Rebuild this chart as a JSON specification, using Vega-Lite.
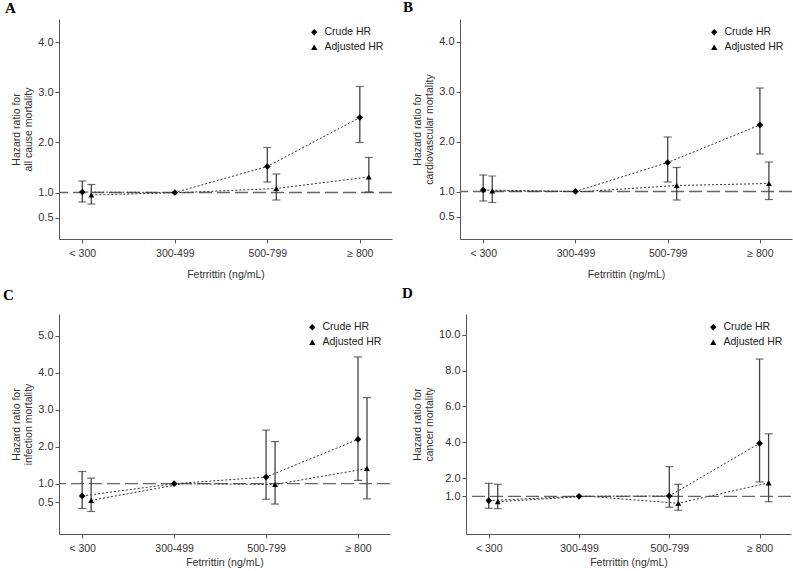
{
  "$schema": "https://vega.github.io/schema/vega-lite/v6.json",
  "padding": {"left": 3, "top": 0, "right": 0, "bottom": 0},
  "config": {
    "font": "Liberation Sans",
    "view": {"stroke": null},
    "axis": {"grid": false, "domainColor": "#555", "tickColor": "#555", "tickSize": 4, "labelColor": "#333", "titleColor": "#333", "titleFontWeight": "normal", "titleFontSize": 10.5, "labelFontSize": 10.5},
    "axisX": {"labelAngle": 0, "labelPadding": 5, "titlePadding": 11},
    "axisY": {"labelFontSize": 11, "labelPadding": 2, "titlePadding": 4},
    "legend": {"orient": "top-right", "offset": 8, "title": null, "labelFontSize": 10.5, "labelColor": "#222", "symbolSize": 40, "symbolFillColor": "black", "symbolStrokeColor": "black", "symbolStrokeWidth": 0, "rowPadding": 4, "labelOffset": 5, "padding": 0},
    "title": {"font": "Liberation Serif", "fontSize": 15, "fontWeight": "bold", "color": "black", "anchor": "start", "frame": "group"}
  },
  "datasets": {
    "A": [
      {"cat": "< 300", "est": "Crude HR", "hr": 1.01, "lo": 0.81, "hi": 1.23},
      {"cat": "300-499", "est": "Crude HR", "hr": 1.0, "lo": null, "hi": null},
      {"cat": "500-799", "est": "Crude HR", "hr": 1.52, "lo": 1.21, "hi": 1.9},
      {"cat": "≥ 800", "est": "Crude HR", "hr": 2.5, "lo": 2.0, "hi": 3.12},
      {"cat": "< 300", "est": "Adjusted HR", "hr": 0.95, "lo": 0.77, "hi": 1.16},
      {"cat": "300-499", "est": "Adjusted HR", "hr": 1.0, "lo": null, "hi": null},
      {"cat": "500-799", "est": "Adjusted HR", "hr": 1.08, "lo": 0.85, "hi": 1.37},
      {"cat": "≥ 800", "est": "Adjusted HR", "hr": 1.31, "lo": 1.01, "hi": 1.7}
    ],
    "B": [
      {"cat": "< 300", "est": "Crude HR", "hr": 1.03, "lo": 0.81, "hi": 1.33},
      {"cat": "300-499", "est": "Crude HR", "hr": 1.0, "lo": null, "hi": null},
      {"cat": "500-799", "est": "Crude HR", "hr": 1.58, "lo": 1.19, "hi": 2.09},
      {"cat": "≥ 800", "est": "Crude HR", "hr": 2.33, "lo": 1.75, "hi": 3.07},
      {"cat": "< 300", "est": "Adjusted HR", "hr": 1.01, "lo": 0.78, "hi": 1.31},
      {"cat": "300-499", "est": "Adjusted HR", "hr": 1.0, "lo": null, "hi": null},
      {"cat": "500-799", "est": "Adjusted HR", "hr": 1.12, "lo": 0.83, "hi": 1.48},
      {"cat": "≥ 800", "est": "Adjusted HR", "hr": 1.16, "lo": 0.84, "hi": 1.59}
    ],
    "C": [
      {"cat": "< 300", "est": "Crude HR", "hr": 0.67, "lo": 0.33, "hi": 1.33},
      {"cat": "300-499", "est": "Crude HR", "hr": 1.0, "lo": null, "hi": null},
      {"cat": "500-799", "est": "Crude HR", "hr": 1.18, "lo": 0.58, "hi": 2.45},
      {"cat": "≥ 800", "est": "Crude HR", "hr": 2.2, "lo": 1.09, "hi": 4.43},
      {"cat": "< 300", "est": "Adjusted HR", "hr": 0.55, "lo": 0.25, "hi": 1.15},
      {"cat": "300-499", "est": "Adjusted HR", "hr": 1.0, "lo": null, "hi": null},
      {"cat": "500-799", "est": "Adjusted HR", "hr": 0.98, "lo": 0.45, "hi": 2.14},
      {"cat": "≥ 800", "est": "Adjusted HR", "hr": 1.41, "lo": 0.59, "hi": 3.33}
    ],
    "D": [
      {"cat": "< 300", "est": "Crude HR", "hr": 0.76, "lo": 0.33, "hi": 1.72},
      {"cat": "300-499", "est": "Crude HR", "hr": 1.0, "lo": null, "hi": null},
      {"cat": "500-799", "est": "Crude HR", "hr": 1.02, "lo": 0.39, "hi": 2.65},
      {"cat": "≥ 800", "est": "Crude HR", "hr": 3.95, "lo": 1.8, "hi": 8.64},
      {"cat": "< 300", "est": "Adjusted HR", "hr": 0.7, "lo": 0.31, "hi": 1.67},
      {"cat": "300-499", "est": "Adjusted HR", "hr": 1.0, "lo": null, "hi": null},
      {"cat": "500-799", "est": "Adjusted HR", "hr": 0.61, "lo": 0.22, "hi": 1.67},
      {"cat": "≥ 800", "est": "Adjusted HR", "hr": 1.75, "lo": 0.7, "hi": 4.48}
    ]
  },
  "resolve": {"scale": {"shape": "independent"}, "legend": {"shape": "independent"}},
  "spacing": 6,
  "vconcat": [
    {
      "spacing": 10,
      "resolve": {"scale": {"shape": "independent"}, "legend": {"shape": "independent"}},
      "hconcat": [
        {
          "title": {"text": "A", "dx": -54, "offset": 3},
          "width": 333, "height": 220,
          "data": {"name": "A"},
          "layer": [
            {"data": {"values": [{"ref": 1}]}, "mark": {"type": "rule", "color": "#666", "strokeDash": [13, 5], "strokeWidth": 1.3}, "encoding": {"y": {"field": "ref", "type": "quantitative", "scale": {"domain": [0.07, 4.47], "nice": false, "zero": false}, "axis": {"values": [0.5, 1, 2, 3, 4], "format": ".1f"}, "title": ["Hazard ratio for", "all cause mortality"]}}},
            {"transform": [{"filter": "datum.est == 'Crude HR'"}], "mark": {"type": "line", "color": "#333", "strokeWidth": 1, "strokeDash": [2, 2]}, "encoding": {"x": {"field": "cat", "type": "nominal", "sort": ["< 300", "300-499", "500-799", "≥ 800"], "scale": {"type": "point", "padding": 0.3, "align": 0.42}, "title": "Fetrrittin (ng/mL)"}, "y": {"field": "hr", "type": "quantitative", "title": ["Hazard ratio for", "all cause mortality"]}, "order": {"value": null}}},
            {"transform": [{"filter": "datum.est == 'Adjusted HR'"}], "mark": {"type": "line", "color": "#333", "strokeWidth": 1, "strokeDash": [2, 2], "xOffset": 9}, "encoding": {"x": {"field": "cat", "type": "nominal", "sort": ["< 300", "300-499", "500-799", "≥ 800"], "title": "Fetrrittin (ng/mL)"}, "y": {"field": "hr", "type": "quantitative", "title": ["Hazard ratio for", "all cause mortality"]}, "order": {"value": null}}},
            {"transform": [{"filter": "datum.est == 'Crude HR' && datum.lo != null"}], "mark": {"type": "rule", "color": "#444", "strokeWidth": 1.3}, "encoding": {"x": {"field": "cat", "type": "nominal", "sort": ["< 300", "300-499", "500-799", "≥ 800"], "title": "Fetrrittin (ng/mL)"}, "y": {"field": "lo", "type": "quantitative", "title": ["Hazard ratio for", "all cause mortality"]}, "y2": {"field": "hi"}}},
            {"transform": [{"filter": "datum.est == 'Adjusted HR' && datum.lo != null"}], "mark": {"type": "rule", "color": "#444", "strokeWidth": 1.3, "xOffset": 9}, "encoding": {"x": {"field": "cat", "type": "nominal", "sort": ["< 300", "300-499", "500-799", "≥ 800"], "title": "Fetrrittin (ng/mL)"}, "y": {"field": "lo", "type": "quantitative", "title": ["Hazard ratio for", "all cause mortality"]}, "y2": {"field": "hi"}}},
            {"transform": [{"filter": "datum.est == 'Crude HR' && datum.lo != null"}, {"fold": ["lo", "hi"], "as": ["bound", "val"]}], "mark": {"type": "tick", "color": "#333", "size": 8, "thickness": 1.2}, "encoding": {"x": {"field": "cat", "type": "nominal", "sort": ["< 300", "300-499", "500-799", "≥ 800"], "title": "Fetrrittin (ng/mL)"}, "y": {"field": "val", "type": "quantitative", "title": ["Hazard ratio for", "all cause mortality"]}}},
            {"transform": [{"filter": "datum.est == 'Adjusted HR' && datum.lo != null"}, {"fold": ["lo", "hi"], "as": ["bound", "val"]}], "mark": {"type": "tick", "color": "#333", "size": 8, "thickness": 1.2, "xOffset": 9}, "encoding": {"x": {"field": "cat", "type": "nominal", "sort": ["< 300", "300-499", "500-799", "≥ 800"], "title": "Fetrrittin (ng/mL)"}, "y": {"field": "val", "type": "quantitative", "title": ["Hazard ratio for", "all cause mortality"]}}},
            {"transform": [{"filter": "datum.est == 'Crude HR'"}], "mark": {"type": "point", "filled": true, "color": "black", "size": 45, "opacity": 1}, "encoding": {"x": {"field": "cat", "type": "nominal", "sort": ["< 300", "300-499", "500-799", "≥ 800"], "title": "Fetrrittin (ng/mL)"}, "y": {"field": "hr", "type": "quantitative", "title": ["Hazard ratio for", "all cause mortality"]}, "shape": {"field": "est", "type": "nominal", "scale": {"domain": ["Crude HR", "Adjusted HR"], "range": ["diamond", "triangle-up"]}, "legend": {}}}},
            {"transform": [{"filter": "datum.est == 'Adjusted HR' && datum.lo != null"}], "mark": {"type": "point", "filled": true, "color": "black", "size": 35, "opacity": 1, "xOffset": 9}, "encoding": {"x": {"field": "cat", "type": "nominal", "sort": ["< 300", "300-499", "500-799", "≥ 800"], "title": "Fetrrittin (ng/mL)"}, "y": {"field": "hr", "type": "quantitative", "title": ["Hazard ratio for", "all cause mortality"]}, "shape": {"field": "est", "type": "nominal"}}}
          ]
        },
        {
          "title": {"text": "B", "dx": -57, "offset": 4},
          "width": 332, "height": 220,
          "data": {"name": "B"},
          "layer": [
            {"data": {"values": [{"ref": 1}]}, "mark": {"type": "rule", "color": "#666", "strokeDash": [13, 5], "strokeWidth": 1.3}, "encoding": {"y": {"field": "ref", "type": "quantitative", "scale": {"domain": [0.05, 4.45], "nice": false, "zero": false}, "axis": {"values": [0.5, 1, 2, 3, 4], "format": ".1f"}, "title": ["Hazard ratio for", "cardiovascular mortality"]}}},
            {"transform": [{"filter": "datum.est == 'Crude HR'"}], "mark": {"type": "line", "color": "#333", "strokeWidth": 1, "strokeDash": [2, 2]}, "encoding": {"x": {"field": "cat", "type": "nominal", "sort": ["< 300", "300-499", "500-799", "≥ 800"], "scale": {"type": "point", "padding": 0.3, "align": 0.42}, "title": "Fetrrittin (ng/mL)"}, "y": {"field": "hr", "type": "quantitative", "title": ["Hazard ratio for", "cardiovascular mortality"]}, "order": {"value": null}}},
            {"transform": [{"filter": "datum.est == 'Adjusted HR'"}], "mark": {"type": "line", "color": "#333", "strokeWidth": 1, "strokeDash": [2, 2], "xOffset": 9}, "encoding": {"x": {"field": "cat", "type": "nominal", "sort": ["< 300", "300-499", "500-799", "≥ 800"], "title": "Fetrrittin (ng/mL)"}, "y": {"field": "hr", "type": "quantitative", "title": ["Hazard ratio for", "cardiovascular mortality"]}, "order": {"value": null}}},
            {"transform": [{"filter": "datum.est == 'Crude HR' && datum.lo != null"}], "mark": {"type": "rule", "color": "#444", "strokeWidth": 1.3}, "encoding": {"x": {"field": "cat", "type": "nominal", "sort": ["< 300", "300-499", "500-799", "≥ 800"], "title": "Fetrrittin (ng/mL)"}, "y": {"field": "lo", "type": "quantitative", "title": ["Hazard ratio for", "cardiovascular mortality"]}, "y2": {"field": "hi"}}},
            {"transform": [{"filter": "datum.est == 'Adjusted HR' && datum.lo != null"}], "mark": {"type": "rule", "color": "#444", "strokeWidth": 1.3, "xOffset": 9}, "encoding": {"x": {"field": "cat", "type": "nominal", "sort": ["< 300", "300-499", "500-799", "≥ 800"], "title": "Fetrrittin (ng/mL)"}, "y": {"field": "lo", "type": "quantitative", "title": ["Hazard ratio for", "cardiovascular mortality"]}, "y2": {"field": "hi"}}},
            {"transform": [{"filter": "datum.est == 'Crude HR' && datum.lo != null"}, {"fold": ["lo", "hi"], "as": ["bound", "val"]}], "mark": {"type": "tick", "color": "#333", "size": 8, "thickness": 1.2}, "encoding": {"x": {"field": "cat", "type": "nominal", "sort": ["< 300", "300-499", "500-799", "≥ 800"], "title": "Fetrrittin (ng/mL)"}, "y": {"field": "val", "type": "quantitative", "title": ["Hazard ratio for", "cardiovascular mortality"]}}},
            {"transform": [{"filter": "datum.est == 'Adjusted HR' && datum.lo != null"}, {"fold": ["lo", "hi"], "as": ["bound", "val"]}], "mark": {"type": "tick", "color": "#333", "size": 8, "thickness": 1.2, "xOffset": 9}, "encoding": {"x": {"field": "cat", "type": "nominal", "sort": ["< 300", "300-499", "500-799", "≥ 800"], "title": "Fetrrittin (ng/mL)"}, "y": {"field": "val", "type": "quantitative", "title": ["Hazard ratio for", "cardiovascular mortality"]}}},
            {"transform": [{"filter": "datum.est == 'Crude HR'"}], "mark": {"type": "point", "filled": true, "color": "black", "size": 45, "opacity": 1}, "encoding": {"x": {"field": "cat", "type": "nominal", "sort": ["< 300", "300-499", "500-799", "≥ 800"], "title": "Fetrrittin (ng/mL)"}, "y": {"field": "hr", "type": "quantitative", "title": ["Hazard ratio for", "cardiovascular mortality"]}, "shape": {"field": "est", "type": "nominal", "scale": {"domain": ["Crude HR", "Adjusted HR"], "range": ["diamond", "triangle-up"]}, "legend": {}}}},
            {"transform": [{"filter": "datum.est == 'Adjusted HR' && datum.lo != null"}], "mark": {"type": "point", "filled": true, "color": "black", "size": 35, "opacity": 1, "xOffset": 9}, "encoding": {"x": {"field": "cat", "type": "nominal", "sort": ["< 300", "300-499", "500-799", "≥ 800"], "title": "Fetrrittin (ng/mL)"}, "y": {"field": "hr", "type": "quantitative", "title": ["Hazard ratio for", "cardiovascular mortality"]}, "shape": {"field": "est", "type": "nominal"}}}
          ]
        }
      ]
    },
    {
      "spacing": 11,
      "resolve": {"scale": {"shape": "independent"}, "legend": {"shape": "independent"}},
      "hconcat": [
        {
          "title": {"text": "C", "dx": -56, "offset": 11},
          "width": 331, "height": 220,
          "data": {"name": "C"},
          "layer": [
            {"data": {"values": [{"ref": 1}]}, "mark": {"type": "rule", "color": "#666", "strokeDash": [13, 5], "strokeWidth": 1.3}, "encoding": {"y": {"field": "ref", "type": "quantitative", "scale": {"domain": [-0.36, 5.59], "nice": false, "zero": false}, "axis": {"values": [0.5, 1, 2, 3, 4, 5], "format": ".1f"}, "title": ["Hazard ratio for", "infection mortality"]}}},
            {"transform": [{"filter": "datum.est == 'Crude HR'"}], "mark": {"type": "line", "color": "#333", "strokeWidth": 1, "strokeDash": [2, 2]}, "encoding": {"x": {"field": "cat", "type": "nominal", "sort": ["< 300", "300-499", "500-799", "≥ 800"], "scale": {"type": "point", "padding": 0.3, "align": 0.42}, "axis": {"titlePadding": 4}, "title": "Fetrrittin (ng/mL)"}, "y": {"field": "hr", "type": "quantitative", "title": ["Hazard ratio for", "infection mortality"]}, "order": {"value": null}}},
            {"transform": [{"filter": "datum.est == 'Adjusted HR'"}], "mark": {"type": "line", "color": "#333", "strokeWidth": 1, "strokeDash": [2, 2], "xOffset": 9}, "encoding": {"x": {"field": "cat", "type": "nominal", "sort": ["< 300", "300-499", "500-799", "≥ 800"], "title": "Fetrrittin (ng/mL)"}, "y": {"field": "hr", "type": "quantitative", "title": ["Hazard ratio for", "infection mortality"]}, "order": {"value": null}}},
            {"transform": [{"filter": "datum.est == 'Crude HR' && datum.lo != null"}], "mark": {"type": "rule", "color": "#444", "strokeWidth": 1.3}, "encoding": {"x": {"field": "cat", "type": "nominal", "sort": ["< 300", "300-499", "500-799", "≥ 800"], "title": "Fetrrittin (ng/mL)"}, "y": {"field": "lo", "type": "quantitative", "title": ["Hazard ratio for", "infection mortality"]}, "y2": {"field": "hi"}}},
            {"transform": [{"filter": "datum.est == 'Adjusted HR' && datum.lo != null"}], "mark": {"type": "rule", "color": "#444", "strokeWidth": 1.3, "xOffset": 9}, "encoding": {"x": {"field": "cat", "type": "nominal", "sort": ["< 300", "300-499", "500-799", "≥ 800"], "title": "Fetrrittin (ng/mL)"}, "y": {"field": "lo", "type": "quantitative", "title": ["Hazard ratio for", "infection mortality"]}, "y2": {"field": "hi"}}},
            {"transform": [{"filter": "datum.est == 'Crude HR' && datum.lo != null"}, {"fold": ["lo", "hi"], "as": ["bound", "val"]}], "mark": {"type": "tick", "color": "#333", "size": 8, "thickness": 1.2}, "encoding": {"x": {"field": "cat", "type": "nominal", "sort": ["< 300", "300-499", "500-799", "≥ 800"], "title": "Fetrrittin (ng/mL)"}, "y": {"field": "val", "type": "quantitative", "title": ["Hazard ratio for", "infection mortality"]}}},
            {"transform": [{"filter": "datum.est == 'Adjusted HR' && datum.lo != null"}, {"fold": ["lo", "hi"], "as": ["bound", "val"]}], "mark": {"type": "tick", "color": "#333", "size": 8, "thickness": 1.2, "xOffset": 9}, "encoding": {"x": {"field": "cat", "type": "nominal", "sort": ["< 300", "300-499", "500-799", "≥ 800"], "title": "Fetrrittin (ng/mL)"}, "y": {"field": "val", "type": "quantitative", "title": ["Hazard ratio for", "infection mortality"]}}},
            {"transform": [{"filter": "datum.est == 'Crude HR'"}], "mark": {"type": "point", "filled": true, "color": "black", "size": 45, "opacity": 1}, "encoding": {"x": {"field": "cat", "type": "nominal", "sort": ["< 300", "300-499", "500-799", "≥ 800"], "title": "Fetrrittin (ng/mL)"}, "y": {"field": "hr", "type": "quantitative", "title": ["Hazard ratio for", "infection mortality"]}, "shape": {"field": "est", "type": "nominal", "scale": {"domain": ["Crude HR", "Adjusted HR"], "range": ["diamond", "triangle-up"]}, "legend": {}}}},
            {"transform": [{"filter": "datum.est == 'Adjusted HR' && datum.lo != null"}], "mark": {"type": "point", "filled": true, "color": "black", "size": 35, "opacity": 1, "xOffset": 9}, "encoding": {"x": {"field": "cat", "type": "nominal", "sort": ["< 300", "300-499", "500-799", "≥ 800"], "title": "Fetrrittin (ng/mL)"}, "y": {"field": "hr", "type": "quantitative", "title": ["Hazard ratio for", "infection mortality"]}, "shape": {"field": "est", "type": "nominal"}}}
          ]
        },
        {
          "title": {"text": "D", "dx": -64, "offset": 13},
          "width": 325, "height": 220,
          "data": {"name": "D"},
          "layer": [
            {"data": {"values": [{"ref": 1}]}, "mark": {"type": "rule", "color": "#666", "strokeDash": [13, 5], "strokeWidth": 1.3}, "encoding": {"y": {"field": "ref", "type": "quantitative", "scale": {"domain": [-1.1, 11.15], "nice": false, "zero": false}, "axis": {"values": [1, 2, 4, 6, 8, 10], "format": ".1f"}, "title": ["Hazard ratio for", "cancer mortality"]}}},
            {"transform": [{"filter": "datum.est == 'Crude HR'"}], "mark": {"type": "line", "color": "#333", "strokeWidth": 1, "strokeDash": [2, 2]}, "encoding": {"x": {"field": "cat", "type": "nominal", "sort": ["< 300", "300-499", "500-799", "≥ 800"], "scale": {"type": "point", "padding": 0.3, "align": 0.42}, "axis": {"titlePadding": 4}, "title": "Fetrrittin (ng/mL)"}, "y": {"field": "hr", "type": "quantitative", "title": ["Hazard ratio for", "cancer mortality"]}, "order": {"value": null}}},
            {"transform": [{"filter": "datum.est == 'Adjusted HR'"}], "mark": {"type": "line", "color": "#333", "strokeWidth": 1, "strokeDash": [2, 2], "xOffset": 9}, "encoding": {"x": {"field": "cat", "type": "nominal", "sort": ["< 300", "300-499", "500-799", "≥ 800"], "title": "Fetrrittin (ng/mL)"}, "y": {"field": "hr", "type": "quantitative", "title": ["Hazard ratio for", "cancer mortality"]}, "order": {"value": null}}},
            {"transform": [{"filter": "datum.est == 'Crude HR' && datum.lo != null"}], "mark": {"type": "rule", "color": "#444", "strokeWidth": 1.3}, "encoding": {"x": {"field": "cat", "type": "nominal", "sort": ["< 300", "300-499", "500-799", "≥ 800"], "title": "Fetrrittin (ng/mL)"}, "y": {"field": "lo", "type": "quantitative", "title": ["Hazard ratio for", "cancer mortality"]}, "y2": {"field": "hi"}}},
            {"transform": [{"filter": "datum.est == 'Adjusted HR' && datum.lo != null"}], "mark": {"type": "rule", "color": "#444", "strokeWidth": 1.3, "xOffset": 9}, "encoding": {"x": {"field": "cat", "type": "nominal", "sort": ["< 300", "300-499", "500-799", "≥ 800"], "title": "Fetrrittin (ng/mL)"}, "y": {"field": "lo", "type": "quantitative", "title": ["Hazard ratio for", "cancer mortality"]}, "y2": {"field": "hi"}}},
            {"transform": [{"filter": "datum.est == 'Crude HR' && datum.lo != null"}, {"fold": ["lo", "hi"], "as": ["bound", "val"]}], "mark": {"type": "tick", "color": "#333", "size": 8, "thickness": 1.2}, "encoding": {"x": {"field": "cat", "type": "nominal", "sort": ["< 300", "300-499", "500-799", "≥ 800"], "title": "Fetrrittin (ng/mL)"}, "y": {"field": "val", "type": "quantitative", "title": ["Hazard ratio for", "cancer mortality"]}}},
            {"transform": [{"filter": "datum.est == 'Adjusted HR' && datum.lo != null"}, {"fold": ["lo", "hi"], "as": ["bound", "val"]}], "mark": {"type": "tick", "color": "#333", "size": 8, "thickness": 1.2, "xOffset": 9}, "encoding": {"x": {"field": "cat", "type": "nominal", "sort": ["< 300", "300-499", "500-799", "≥ 800"], "title": "Fetrrittin (ng/mL)"}, "y": {"field": "val", "type": "quantitative", "title": ["Hazard ratio for", "cancer mortality"]}}},
            {"transform": [{"filter": "datum.est == 'Crude HR'"}], "mark": {"type": "point", "filled": true, "color": "black", "size": 45, "opacity": 1}, "encoding": {"x": {"field": "cat", "type": "nominal", "sort": ["< 300", "300-499", "500-799", "≥ 800"], "title": "Fetrrittin (ng/mL)"}, "y": {"field": "hr", "type": "quantitative", "title": ["Hazard ratio for", "cancer mortality"]}, "shape": {"field": "est", "type": "nominal", "scale": {"domain": ["Crude HR", "Adjusted HR"], "range": ["diamond", "triangle-up"]}, "legend": {}}}},
            {"transform": [{"filter": "datum.est == 'Adjusted HR' && datum.lo != null"}], "mark": {"type": "point", "filled": true, "color": "black", "size": 35, "opacity": 1, "xOffset": 9}, "encoding": {"x": {"field": "cat", "type": "nominal", "sort": ["< 300", "300-499", "500-799", "≥ 800"], "title": "Fetrrittin (ng/mL)"}, "y": {"field": "hr", "type": "quantitative", "title": ["Hazard ratio for", "cancer mortality"]}, "shape": {"field": "est", "type": "nominal"}}}
          ]
        }
      ]
    }
  ]
}
